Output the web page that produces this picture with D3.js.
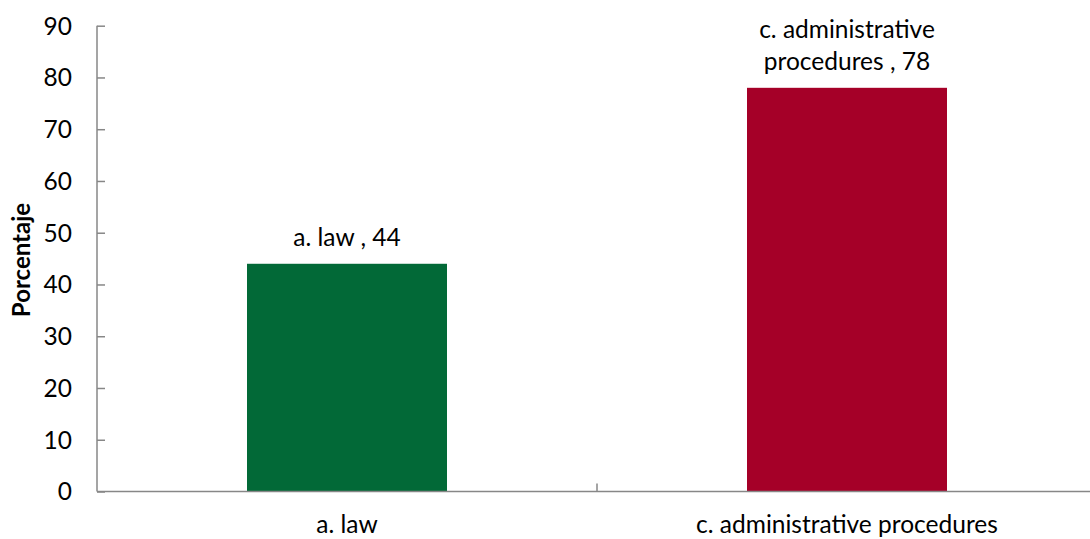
<!DOCTYPE html>
<html><head><meta charset="utf-8">
<script src="https://cdn.jsdelivr.net/npm/d3@7"></script>
<style>body{margin:0;background:#fff}svg{display:block}text{font-family:Lato,"Open Sans",sans-serif;fill:#000}</style>
</head><body><svg id="c" width="1090" height="539"></svg>
<script>
const categories = ["a. law", "c. administrative procedures"];
const values = [44, 78];
const colors = ["#026937", "#A50028"];
const labelLines = [["a. law , 44"], ["c. administrative", "procedures , 78"]];
const yTicks = [0,10,20,30,40,50,60,70,80,90];

const svg = d3.select("#c");
const x = d3.scaleBand().domain(categories).range([97, 1097]).paddingInner(0).paddingOuter(0);
const y = d3.scaleLinear().domain([0, 90]).range([491.5, 25.7]);
const barW = 200;
const axisColor = "#878787";
const fs = 24.5;

// y axis
const ya = svg.append("g").attr("transform", "translate(97,0)")
  .call(d3.axisRight(y).tickValues(yTicks).tickSize(8).tickFormat(""));
ya.select(".domain").attr("stroke", axisColor).attr("stroke-width", 1.5).attr("d", `M0,${y(90)}V${y(0)}`);
ya.selectAll(".tick line").attr("stroke", axisColor).attr("stroke-width", 1.5);
svg.append("g").selectAll("text").data(yTicks).join("text")
  .attr("x", 72).attr("y", d => y(d)).attr("dy", "0.36em")
  .attr("text-anchor", "end").attr("font-size", fs).text(d => d);

// bars
svg.append("g").selectAll("rect").data(categories).join("rect")
  .attr("x", d => x(d) + (x.bandwidth() - barW) / 2)
  .attr("width", barW)
  .attr("y", (d, i) => y(values[i]))
  .attr("height", (d, i) => y(0) - y(values[i]))
  .attr("fill", (d, i) => colors[i]);

// x axis
const xa = svg.append("g").attr("transform", `translate(0,${y(0)})`)
  .call(d3.axisTop(x).tickSize(0).tickFormat(""));
xa.select(".domain").attr("stroke", axisColor).attr("stroke-width", 1.5).attr("d", "M97,0H1090");
svg.append("line").attr("x1", 597).attr("x2", 597).attr("y1", y(0)).attr("y2", y(0) - 8)
  .attr("stroke", axisColor).attr("stroke-width", 1.5);
svg.append("g").selectAll("text").data(categories).join("text")
  .attr("x", d => x(d) + x.bandwidth() / 2).attr("y", 533)
  .attr("text-anchor", "middle").attr("font-size", fs).text(d => d);

// data labels
categories.forEach((c, i) => {
  const lines = labelLines[i];
  const cx = x(c) + x.bandwidth() / 2;
  const base = y(values[i]) - 18;
  lines.forEach((t, j) => {
    svg.append("text").attr("x", cx).attr("y", base - (lines.length - 1 - j) * 32)
      .attr("text-anchor", "middle").attr("font-size", fs).text(t);
  });
});

// y title
svg.append("text").attr("transform", "translate(30,260) rotate(-90)")
  .attr("text-anchor", "middle").attr("font-size", 24).attr("font-weight", "bold").text("Porcentaje");
</script></body></html>
